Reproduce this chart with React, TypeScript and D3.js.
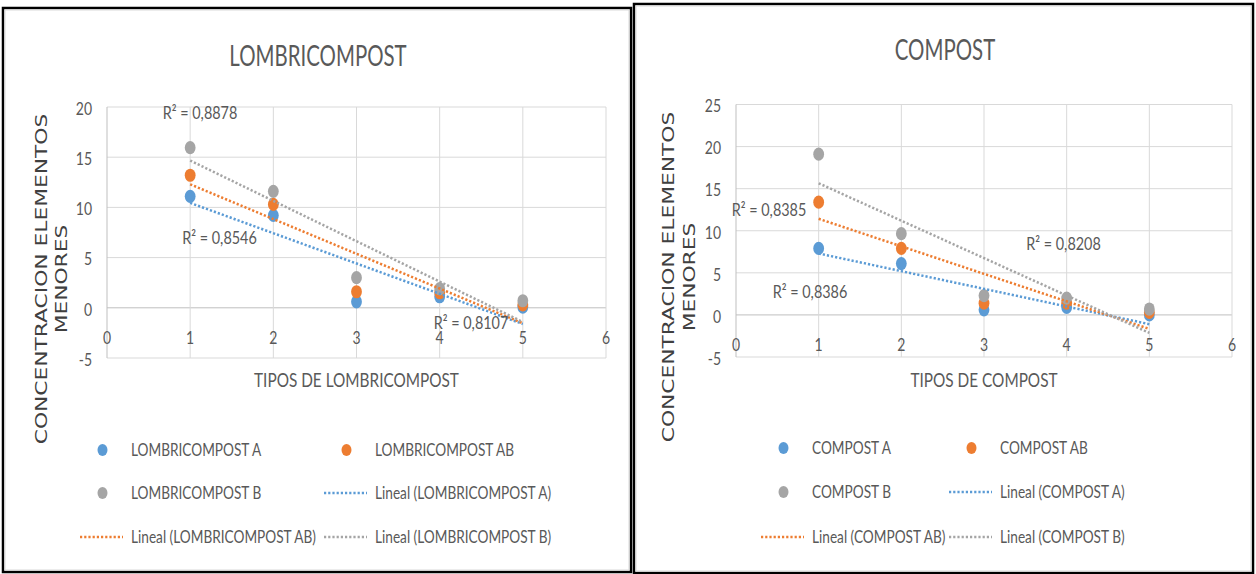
import React from 'react';
import * as d3 from 'd3';

// ---------- DATA ----------
const xValues = [1, 2, 3, 4, 5];
const xTicks = [0, 1, 2, 3, 4, 5, 6];

const lombriNames = ['LOMBRICOMPOST A', 'LOMBRICOMPOST AB', 'LOMBRICOMPOST B'];
const lombriA = [11.1, 9.2, 0.6, 1.1, 0.07];
const lombriAB = [13.2, 10.3, 1.6, 1.5, 0.3];
const lombriB = [15.95, 11.6, 3.0, 1.9, 0.7];
const lombriYTicks = [-5, 0, 5, 10, 15, 20];
const lombriR2 = ['0,8878', '0,8546', '0,8107'];

const compostNames = ['COMPOST A', 'COMPOST AB', 'COMPOST B'];
const compostA = [7.9, 6.1, 0.6, 0.9, 0.0];
const compostAB = [13.4, 7.9, 1.4, 1.4, 0.3];
const compostB = [19.1, 9.65, 2.3, 2.0, 0.7];
const compostYTicks = [-5, 0, 5, 10, 15, 20, 25];
const compostR2 = ['0,8385', '0,8386', '0,8208'];

const yTitleLines = ['CONCENTRACION ELEMENTOS', 'MENORES'];

// ---------- STYLE ----------
const COLORS = ['#5B9BD5', '#ED7D31', '#A5A5A5'];
const FONT = "Lato, 'Open Sans', sans-serif";
const TEXT = '#595959';
const SX = 0.8;
const CAP = 0.717;

function T({ x, y, size, sx = SX, anchor = 'start', fill = TEXT, family = FONT, children }: any) {
  // y is the vertical center of capital letters
  const base = y + (CAP * size) / 2;
  return (
    <text
      transform={`translate(${x},${base}) scale(${sx},1)`}
      fontSize={size}
      textAnchor={anchor}
      fill={fill}
      fontFamily={family}
    >
      {children}
    </text>
  );
}

function fit(xs: number[], ys: number[]) {
  const mx = d3.mean(xs)!;
  const my = d3.mean(ys)!;
  const sxy = d3.sum(xs.map((x, i) => (x - mx) * (ys[i] - my)));
  const sxx = d3.sum(xs.map((x) => (x - mx) * (x - mx)));
  const b = sxy / sxx;
  return { a: my - b * mx, b };
}

const leftLayout = {
  frame: { x: 3, y: 8, w: 628, h: 564 },
  plot: { left: 107, right: 606, top: 107, bottom: 358 },
  title: 'LOMBRICOMPOST',
  titleX: 318,
  titleY: 55.5,
  yTitleX: [41, 61],
  yTitleY: 279,
  xTitle: 'TIPOS DE LOMBRICOMPOST',
  xTitleY: 380,
  legendCols: [131, 375],
  legendRows: [450, 493, 537],
  legendSx: 0.78,
  r2Pos: [
    [93, 6],
    [112.5, 131],
    [364, 216],
  ],
};

const rightLayout = {
  frame: { x: 634, y: 4, w: 619, h: 569 },
  plot: { left: 736, right: 1232, top: 104.5, bottom: 357 },
  title: 'COMPOST',
  titleX: 945,
  titleY: 50,
  yTitleX: [668, 689],
  yTitleY: 277,
  xTitle: 'TIPOS DE COMPOST',
  xTitleY: 380,
  legendCols: [812, 1000],
  legendRows: [448, 492, 537],
  legendSx: 0.78,
  r2Pos: [
    [33, 105.5],
    [74, 187.5],
    [327.5, 139.5],
  ],
};

function Panel({ layout, series, names, yTicks, r2 }: any) {
  const { plot, frame } = layout;
  const x = d3.scaleLinear().domain([0, 6]).range([plot.left, plot.right]);
  const y = d3
    .scaleLinear()
    .domain([yTicks[0], yTicks[yTicks.length - 1]])
    .range([plot.bottom, plot.top]);
  const line = d3
    .line<[number, number]>()
    .x((d) => x(d[0]))
    .y((d) => y(d[1]));
  const fits = series.map((s: number[]) => fit(xValues, s));
  const x0 = d3.min(xValues)!;
  const x1 = d3.max(xValues)!;

  const legendItems = [
    ...names.map((n: string, i: number) => ({ kind: 'marker', i, label: n })),
    ...names.map((n: string, i: number) => ({ kind: 'line', i, label: `Lineal (${n})` })),
  ];

  return (
    <g>
      <rect x={frame.x} y={frame.y} width={frame.w} height={frame.h} fill="#fff" stroke="#000" strokeWidth={2.5} />
      <rect
        x={frame.x + 2}
        y={frame.y + 2}
        width={frame.w - 4}
        height={frame.h - 4}
        fill="none"
        stroke="#D9D9D9"
        strokeWidth={1}
      />
      {/* grid */}
      {yTicks.map((t: number) => (
        <line
          key={'gy' + t}
          x1={plot.left}
          x2={plot.right}
          y1={y(t)}
          y2={y(t)}
          stroke={t === 0 ? '#BFBFBF' : '#D9D9D9'}
          strokeWidth={1}
        />
      ))}
      {xTicks.map((t) => (
        <line
          key={'gx' + t}
          x1={x(t)}
          x2={x(t)}
          y1={plot.top}
          y2={plot.bottom}
          stroke={t === 0 ? '#BFBFBF' : '#D9D9D9'}
          strokeWidth={1}
        />
      ))}
      {/* tick labels */}
      {yTicks.map((t: number) => (
        <T key={'ty' + t} x={plot.left - 15} y={y(t) + 1.5} size={17.5} anchor="end">
          {t}
        </T>
      ))}
      {xTicks.map((t) => (
        <T key={'tx' + t} x={x(t)} y={y(0) + 30} size={17.5} anchor="middle">
          {t}
        </T>
      ))}
      {/* markers */}
      {series.map((s: number[], si: number) =>
        s.map((v, i) => (
          <ellipse key={`m${si}-${i}`} cx={x(xValues[i])} cy={y(v)} rx={5.4} ry={6.6} fill={COLORS[si]} />
        ))
      )}
      {/* trendlines */}
      {fits.map((f: any, si: number) => (
        <path
          key={'tr' + si}
          d={line([
            [x0, f.a + f.b * x0],
            [x1, f.a + f.b * x1],
          ])!}
          fill="none"
          stroke={COLORS[si]}
          strokeWidth={2.5}
          strokeDasharray="2.2 2"
        />
      ))}
      {/* R² labels */}
      {r2.map((r: string, i: number) => (
        <T key={'r2' + i} x={plot.left + layout.r2Pos[i][0]} y={plot.top + layout.r2Pos[i][1]} size={18} anchor="middle">
          {`R² = ${r}`}
        </T>
      ))}
      {/* titles */}
      <T x={layout.titleX} y={layout.titleY} size={29} sx={0.705} anchor="middle">
        {layout.title}
      </T>
      <T x={(plot.left + plot.right) / 2} y={layout.xTitleY} size={18.5} sx={0.83} anchor="middle">
        {layout.xTitle}
      </T>
      {yTitleLines.map((ln, i) => (
        <text
          key={'yt' + i}
          transform={`translate(${layout.yTitleX[i] + 6},${layout.yTitleY}) rotate(-90) scale(1.32,1)`}
          fontSize={16.5}
          textAnchor="middle"
          fill="#404040"
          fontFamily="'DejaVu Sans', sans-serif"
        >
          {ln}
        </text>
      ))}
      {/* legend */}
      {legendItems.map((it: any, k: number) => {
        const col = k % 2;
        const row = Math.floor(k / 2);
        const tx = layout.legendCols[col];
        const ty = layout.legendRows[row];
        return (
          <g key={'lg' + k}>
            {it.kind === 'marker' ? (
              <ellipse cx={tx - 28.5} cy={ty} rx={5} ry={6} fill={COLORS[it.i]} />
            ) : (
              <line
                x1={tx - 51}
                x2={tx - 8}
                y1={ty}
                y2={ty}
                stroke={COLORS[it.i]}
                strokeWidth={2.5}
                strokeDasharray="2.2 2"
              />
            )}
            <T x={tx} y={ty} size={17.5} sx={layout.legendSx} anchor="start">
              {it.label}
            </T>
          </g>
        );
      })}
    </g>
  );
}

export default function App() {
  return (
    <svg
      width={1256}
      height={574}
      style={{ position: 'absolute', left: 0, top: 0, background: '#fff' }}
    >
      <rect x={0} y={0} width={1256} height={574} fill="#fff" />
      <Panel
        layout={leftLayout}
        series={[lombriA, lombriAB, lombriB]}
        names={lombriNames}
        yTicks={lombriYTicks}
        r2={lombriR2}
      />
      <Panel
        layout={rightLayout}
        series={[compostA, compostAB, compostB]}
        names={compostNames}
        yTicks={compostYTicks}
        r2={compostR2}
      />
    </svg>
  );
}
